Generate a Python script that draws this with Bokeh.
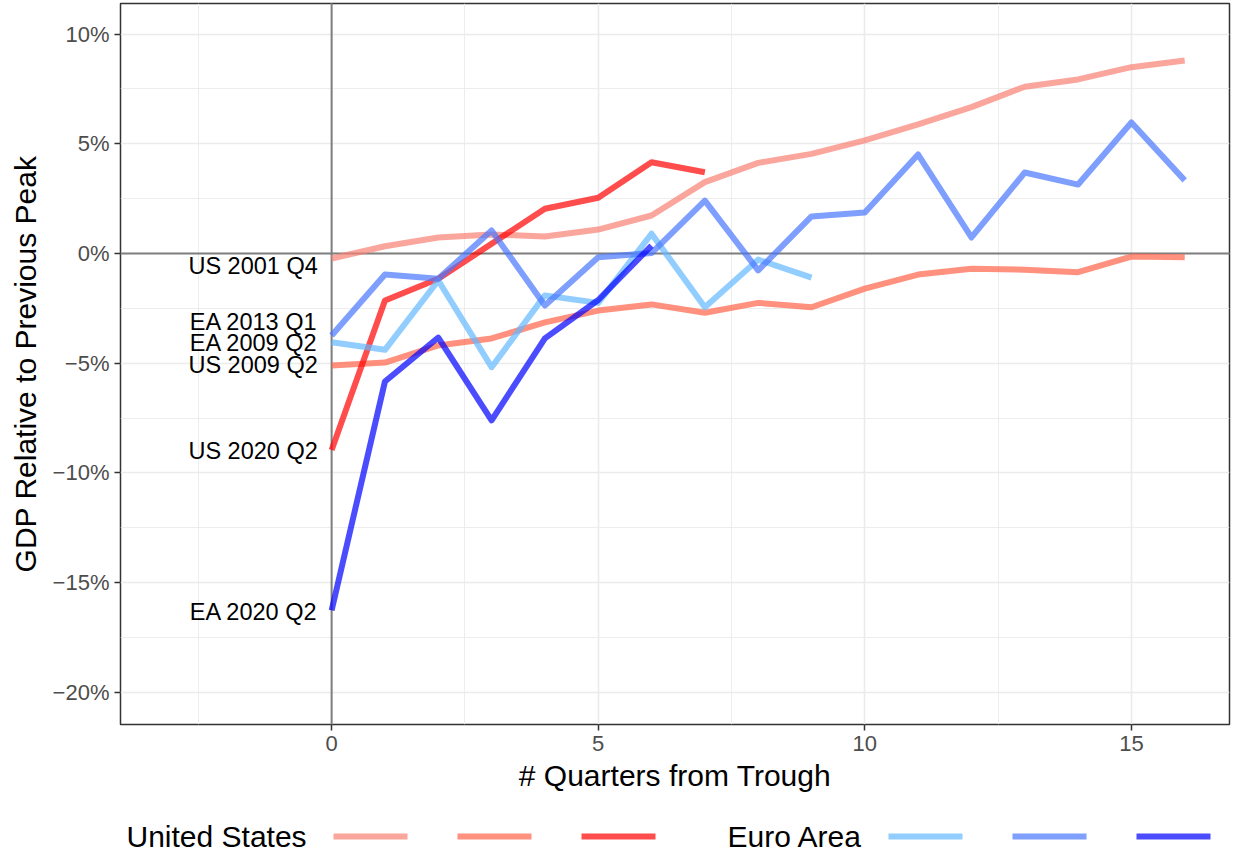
from bokeh.plotting import figure
from bokeh.models import Range1d, FixedTicker, Span, ColumnDataSource
from bokeh.layouts import column
from bokeh.core.properties import value
from bokeh.embed import file_html
from bokeh.resources import INLINE

# ---------------- data ----------------
us_2001q4 = [-0.23, 0.33, 0.73, 0.87, 0.77, 1.09, 1.73, 3.25, 4.13, 4.54, 5.15, 5.88, 6.67, 7.60, 7.93, 8.49, 8.79]
us_2009q2 = [-5.10, -4.97, -4.19, -3.87, -3.14, -2.60, -2.32, -2.70, -2.25, -2.45, -1.60, -0.96, -0.70, -0.74, -0.85, -0.14, -0.17]
us_2020q2 = [-8.95, -2.14, -1.15, 0.44, 2.04, 2.54, 4.16, 3.70]
ea_2009q2 = [-4.04, -4.39, -1.23, -5.18, -1.91, -2.25, 0.90, -2.45, -0.28, -1.10]
ea_2013q1 = [-3.74, -0.96, -1.15, 1.05, -2.37, -0.17, 0.02, 2.41, -0.77, 1.69, 1.87, 4.51, 0.73, 3.69, 3.14, 5.97, 3.33]
ea_2020q2 = [-16.26, -5.83, -3.83, -7.60, -3.87, -2.12, 0.36]

series_names = ["US 2001 Q4", "US 2009 Q2", "US 2020 Q2", "EA 2009 Q2", "EA 2013 Q1", "EA 2020 Q2"]
series_values = [us_2001q4, us_2009q2, us_2020q2, ea_2009q2, ea_2013q1, ea_2020q2]
series_colors = ["salmon", "tomato", "red", "#63B8FF", "#4876FF", "blue"]

# end labels (positions nudged apart like ggrepel)
label_text = ["US 2001 Q4", "EA 2013 Q1", "EA 2009 Q2", "US 2009 Q2", "US 2020 Q2", "EA 2020 Q2"]
label_y = [-0.55, -3.14, -4.10, -5.10, -9.00, -16.35]
label_x = [-0.26] * len(label_text)

x_ticks = [0, 5, 10, 15]
x_minor = [-2.5, 2.5, 7.5, 12.5]
y_ticks = [-20, -15, -10, -5, 0, 5, 10]
y_tick_labels = ["\u221220%", "\u221215%", "\u221210%", "\u22125%", "0%", "5%", "10%"]
y_minor = [-17.5, -12.5, -7.5, -2.5, 2.5, 7.5]

legend_groups = ["United States", "Euro Area"]

FONT = "Liberation Sans"
W = 1232
FRAME_L = 120
FRAME_R = 3

# ---------------- main plot ----------------
p = figure(width=W, height=800,
           x_range=Range1d(-3.96, 16.84), y_range=Range1d(-21.46, 11.39),
           output_backend="svg", toolbar_location=None,
           min_border_left=FRAME_L, min_border_right=FRAME_R, min_border_top=3, min_border_bottom=76)

p.background_fill_color = "white"
p.outline_line_color = "#333333"
p.outline_line_width = 1.5

p.xaxis.ticker = FixedTicker(ticks=x_ticks, minor_ticks=x_minor)
p.yaxis.ticker = FixedTicker(ticks=y_ticks, minor_ticks=y_minor)
p.yaxis.major_label_overrides = dict(zip(y_ticks, y_tick_labels))

for ax in (p.xaxis[0], p.yaxis[0]):
    ax.axis_line_color = None
    ax.major_tick_line_color = "#333333"
    ax.major_tick_line_width = 1.5
    ax.major_tick_out = 6
    ax.major_tick_in = 0
    ax.minor_tick_line_color = None
    ax.major_label_text_font = FONT
    ax.major_label_text_font_size = "22px"
    ax.major_label_text_color = "#4D4D4D"
    ax.major_label_standoff = 5
    ax.axis_label_text_font = FONT
    ax.axis_label_text_font_size = "30px"
    ax.axis_label_text_font_style = "normal"
    ax.axis_label_text_color = "black"

p.xaxis.axis_label = "# Quarters from Trough"
p.yaxis.axis_label = "GDP Relative to Previous Peak"
p.xaxis.axis_label_standoff = 5
p.yaxis.axis_label_standoff = 8

p.grid.grid_line_color = "#EBEBEB"
p.grid.grid_line_width = 1.6
p.grid.minor_grid_line_color = "#EBEBEB"
p.grid.minor_grid_line_width = 0.9

p.add_layout(Span(location=0, dimension="height", line_color="#7F7F7F", line_width=2, level="underlay"))
p.add_layout(Span(location=0, dimension="width", line_color="#7F7F7F", line_width=2, level="underlay"))

for vals, col in zip(series_values, series_colors):
    xs = list(range(len(vals)))
    p.line(xs, vals, line_color=col, line_alpha=0.7, line_width=6,
           line_join="round", line_cap="butt")

lab_src = ColumnDataSource(dict(x=label_x, y=label_y, text=label_text))
p.text(x="x", y="y", text="text", source=lab_src, text_align="right", text_baseline="middle",
       text_font=value(FONT), text_font_size="23.5px", text_color="black")

# ---------------- legend strip ----------------
LH = 53
lf = figure(width=W, height=LH, x_range=Range1d(FRAME_L, W - FRAME_R), y_range=Range1d(0, LH),
            output_backend="svg", toolbar_location=None,
            min_border_left=FRAME_L, min_border_right=FRAME_R, min_border_top=0, min_border_bottom=0)
lf.axis.visible = False
lf.grid.visible = False
lf.outline_line_color = None

group_text_x = [126, 727]
group_swatch_x0 = [333, 888]
swatch_step = 124
swatch_w = 74
leg_y = 17

lf.text(x=group_text_x, y=[leg_y] * 2, text=legend_groups, text_align="left", text_baseline="middle",
        text_font=value(FONT), text_font_size="30px", text_color="black")

sx0, sx1, sc = [], [], []
for g, x0 in enumerate(group_swatch_x0):
    for k in range(3):
        sx0.append(x0 + k * swatch_step)
        sx1.append(x0 + k * swatch_step + swatch_w)
        sc.append(series_colors[g * 3 + k])
lf.segment(x0=sx0, y0=[leg_y] * 6, x1=sx1, y1=[leg_y] * 6, line_color=sc, line_alpha=0.7,
           line_width=6, line_cap="butt")

layout = column(p, lf, spacing=0)
open("out.html", "w").write(file_html(layout, INLINE))
